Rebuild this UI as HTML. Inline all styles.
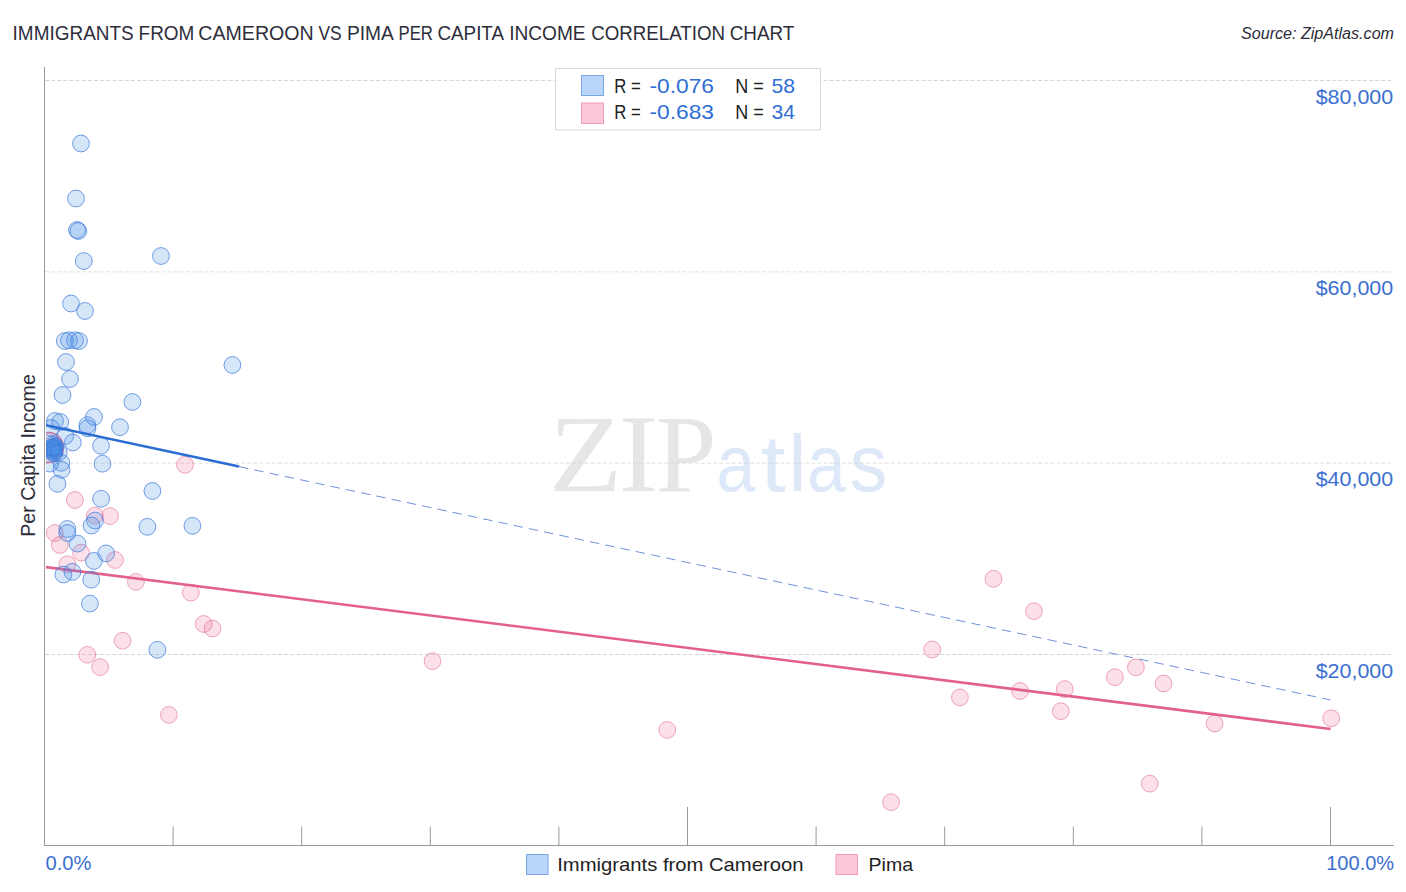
<!DOCTYPE html>
<html><head><meta charset="utf-8"><title>Chart</title>
<style>
html,body{margin:0;padding:0;background:#fff;}
body{width:1406px;height:892px;overflow:hidden;font-family:"Liberation Sans",sans-serif;}
svg{display:block;}
text{font-family:"Liberation Sans",sans-serif;}
.serif{font-family:"Liberation Serif",serif;}
</style></head><body>
<svg width="1406" height="892" viewBox="0 0 1406 892">
<rect width="1406" height="892" fill="#ffffff"/>

<text class="serif" transform="translate(548.9,490.5) scale(1.088,1)" font-size="110" fill="#e6e6e6">Z</text>
<text class="serif" transform="translate(618.7,490.5) scale(1.08,1)" font-size="110" fill="#e6e6e6">I</text>
<text class="serif" transform="translate(655.4,490.5) scale(1.0,1)" font-size="110" fill="#e6e6e6">P</text>
<text transform="translate(716.6,491.2) scale(0.869,1)" font-size="80" fill="#dde8f8">a</text>
<text transform="translate(760.8,491.2) scale(1.119,1)" font-size="80" fill="#dde8f8">t</text>
<text transform="translate(788.5,491.2) scale(1.0,1)" font-size="80" fill="#dde8f8">l</text>
<text transform="translate(807.1,491.2) scale(0.869,1)" font-size="80" fill="#dde8f8">a</text>
<text transform="translate(849.7,491.2) scale(0.939,1)" font-size="80" fill="#dde8f8">s</text>
<line x1="45" y1="80.50" x2="1394" y2="80.50" stroke="#d6d6d6" stroke-opacity="1" stroke-width="1" stroke-dasharray="4 2.13"/>
<line x1="45" y1="271.83" x2="1394" y2="271.83" stroke="#d6d6d6" stroke-opacity="0.75" stroke-width="1" stroke-dasharray="4 2.13"/>
<line x1="45" y1="463.17" x2="1394" y2="463.17" stroke="#d6d6d6" stroke-opacity="0.75" stroke-width="1" stroke-dasharray="4 2.13"/>
<line x1="45" y1="654.50" x2="1394" y2="654.50" stroke="#d6d6d6" stroke-opacity="1" stroke-width="1" stroke-dasharray="4 2.13"/>
<line x1="44.5" y1="67" x2="44.5" y2="845.5" stroke="#9a9a9a" stroke-width="1"/>
<line x1="44" y1="845.5" x2="1394" y2="845.5" stroke="#9a9a9a" stroke-width="1"/>
<line x1="173.1" y1="826.5" x2="173.1" y2="845" stroke="#9a9a9a" stroke-width="1"/>
<line x1="301.7" y1="826.5" x2="301.7" y2="845" stroke="#9a9a9a" stroke-width="1"/>
<line x1="430.3" y1="826.5" x2="430.3" y2="845" stroke="#9a9a9a" stroke-width="1"/>
<line x1="558.9" y1="826.5" x2="558.9" y2="845" stroke="#9a9a9a" stroke-width="1"/>
<line x1="687.5" y1="807" x2="687.5" y2="845" stroke="#9a9a9a" stroke-width="1"/>
<line x1="816.1" y1="826.5" x2="816.1" y2="845" stroke="#9a9a9a" stroke-width="1"/>
<line x1="944.7" y1="826.5" x2="944.7" y2="845" stroke="#9a9a9a" stroke-width="1"/>
<line x1="1073.3" y1="826.5" x2="1073.3" y2="845" stroke="#9a9a9a" stroke-width="1"/>
<line x1="1201.9" y1="826.5" x2="1201.9" y2="845" stroke="#9a9a9a" stroke-width="1"/>
<line x1="1330.5" y1="807" x2="1330.5" y2="845" stroke="#9a9a9a" stroke-width="1"/>
<text x="12.6" y="39.8" font-size="20" fill="#2d2d3a" textLength="121.1" lengthAdjust="spacingAndGlyphs">IMMIGRANTS</text>
<text x="138.6" y="39.8" font-size="20" fill="#2d2d3a" textLength="55.7" lengthAdjust="spacingAndGlyphs">FROM</text>
<text x="198.3" y="39.8" font-size="20" fill="#2d2d3a" textLength="115.4" lengthAdjust="spacingAndGlyphs">CAMEROON</text>
<text x="318.4" y="39.8" font-size="20" fill="#2d2d3a" textLength="23.2" lengthAdjust="spacingAndGlyphs">VS</text>
<text x="346.9" y="39.8" font-size="20" fill="#2d2d3a" textLength="46.9" lengthAdjust="spacingAndGlyphs">PIMA</text>
<text x="398.5" y="39.8" font-size="20" fill="#2d2d3a" textLength="34.4" lengthAdjust="spacingAndGlyphs">PER</text>
<text x="437.5" y="39.8" font-size="20" fill="#2d2d3a" textLength="66.5" lengthAdjust="spacingAndGlyphs">CAPITA</text>
<text x="509.2" y="39.8" font-size="20" fill="#2d2d3a" textLength="76.4" lengthAdjust="spacingAndGlyphs">INCOME</text>
<text x="591.2" y="39.8" font-size="20" fill="#2d2d3a" textLength="133.8" lengthAdjust="spacingAndGlyphs">CORRELATION</text>
<text x="729.7" y="39.8" font-size="20" fill="#2d2d3a" textLength="64.6" lengthAdjust="spacingAndGlyphs">CHART</text>
<text x="1241" y="39" font-size="16" font-style="italic" fill="#2d2d3a" textLength="153" lengthAdjust="spacingAndGlyphs">Source: ZipAtlas.com</text>
<text x="1315.7" y="103.7" font-size="20.5" fill="#3b6fd0" textLength="77.5" lengthAdjust="spacingAndGlyphs">$80,000</text>
<text x="1315.7" y="295.0" font-size="20.5" fill="#3b6fd0" textLength="77.5" lengthAdjust="spacingAndGlyphs">$60,000</text>
<text x="1315.7" y="486.3" font-size="20.5" fill="#3b6fd0" textLength="77.5" lengthAdjust="spacingAndGlyphs">$40,000</text>
<text x="1315.7" y="677.6" font-size="20.5" fill="#3b6fd0" textLength="77.5" lengthAdjust="spacingAndGlyphs">$20,000</text>
<text x="45.5" y="870" font-size="19.5" fill="#3b6fd0" textLength="46" lengthAdjust="spacingAndGlyphs">0.0%</text>
<text x="1326.2" y="870" font-size="19.5" fill="#3b6fd0" textLength="68" lengthAdjust="spacingAndGlyphs">100.0%</text>
<text transform="translate(35,536.8) rotate(-90)" font-size="20" fill="#2d2d3a" textLength="162.6" lengthAdjust="spacingAndGlyphs">Per Capita Income</text>
<defs><clipPath id="pc"><rect x="46" y="60" width="1360" height="785"/></clipPath></defs>
<g clip-path="url(#pc)">
<g fill="rgb(235,100,140)" fill-opacity="0.2" stroke="rgb(225,95,135)" stroke-opacity="0.6" stroke-width="0.9">
<circle cx="48.5" cy="447.6" r="15" stroke-width="1.5" stroke-opacity="0.9"/>
<circle cx="185" cy="464.8" r="8.4"/>
<circle cx="74.9" cy="500" r="8.4"/>
<circle cx="94.8" cy="515.6" r="8.4"/>
<circle cx="110" cy="516.1" r="8.4"/>
<circle cx="54.8" cy="533" r="8.4"/>
<circle cx="59.8" cy="545" r="8.4"/>
<circle cx="81" cy="552.6" r="8.4"/>
<circle cx="115" cy="560" r="8.4"/>
<circle cx="67.3" cy="564.3" r="8.4"/>
<circle cx="135.9" cy="581.9" r="8.4"/>
<circle cx="190.8" cy="592.6" r="8.4"/>
<circle cx="203.7" cy="624" r="8.4"/>
<circle cx="212.5" cy="628.5" r="8.4"/>
<circle cx="122.6" cy="640.7" r="8.4"/>
<circle cx="87.3" cy="654.8" r="8.4"/>
<circle cx="100.1" cy="667.1" r="8.4"/>
<circle cx="168.9" cy="714.9" r="8.4"/>
<circle cx="432.5" cy="661.2" r="8.4"/>
<circle cx="667.3" cy="729.9" r="8.4"/>
<circle cx="891.1" cy="802.2" r="8.4"/>
<circle cx="932.2" cy="649.5" r="8.4"/>
<circle cx="959.9" cy="697.4" r="8.4"/>
<circle cx="993.5" cy="578.8" r="8.4"/>
<circle cx="1020" cy="691" r="8.4"/>
<circle cx="1033.9" cy="611.2" r="8.4"/>
<circle cx="1060.8" cy="711.2" r="8.4"/>
<circle cx="1064.7" cy="689.1" r="8.4"/>
<circle cx="1114.9" cy="677.2" r="8.4"/>
<circle cx="1135.9" cy="667.3" r="8.4"/>
<circle cx="1163.6" cy="683.5" r="8.4"/>
<circle cx="1149.7" cy="783.6" r="8.4"/>
<circle cx="1214.6" cy="723.5" r="8.4"/>
<circle cx="1331.2" cy="718.3" r="8.4"/>
</g>
<line x1="45" y1="567" x2="1330.5" y2="729" stroke="#e2608b" stroke-width="2.5"/>
<g fill="rgb(70,140,228)" fill-opacity="0.22" stroke="rgb(60,120,220)" stroke-opacity="0.75" stroke-width="0.95">
<circle cx="81" cy="143.5" r="8.4"/>
<circle cx="76" cy="198.5" r="8.4"/>
<circle cx="77" cy="230" r="8.4"/>
<circle cx="78.3" cy="231" r="8.4"/>
<circle cx="83.8" cy="261" r="8.4"/>
<circle cx="161" cy="256" r="8.4"/>
<circle cx="71" cy="303.5" r="8.4"/>
<circle cx="85" cy="311" r="8.4"/>
<circle cx="64.8" cy="341" r="8.4"/>
<circle cx="69" cy="340.3" r="8.4"/>
<circle cx="75" cy="340.3" r="8.4"/>
<circle cx="79" cy="341" r="8.4"/>
<circle cx="66" cy="362" r="8.4"/>
<circle cx="70" cy="379" r="8.4"/>
<circle cx="62.5" cy="395" r="8.4"/>
<circle cx="232.4" cy="365" r="8.4"/>
<circle cx="132.4" cy="402" r="8.4"/>
<circle cx="55" cy="421" r="8.4"/>
<circle cx="60.2" cy="422" r="8.4"/>
<circle cx="94" cy="417" r="8.4"/>
<circle cx="87.4" cy="425.2" r="8.4"/>
<circle cx="87.5" cy="428.3" r="8.4"/>
<circle cx="120" cy="427.2" r="8.4"/>
<circle cx="51" cy="428" r="8.4"/>
<circle cx="65.2" cy="436" r="8.4"/>
<circle cx="72.8" cy="442.5" r="8.4"/>
<circle cx="101" cy="445.8" r="8.4"/>
<circle cx="52.5" cy="444" r="8.4"/>
<circle cx="53.5" cy="445.5" r="8.4"/>
<circle cx="54" cy="447" r="8.4"/>
<circle cx="53" cy="448" r="8.4"/>
<circle cx="54.5" cy="448.5" r="8.4"/>
<circle cx="53.5" cy="449.5" r="8.4"/>
<circle cx="52.5" cy="450.5" r="8.4"/>
<circle cx="54" cy="451" r="8.4"/>
<circle cx="53" cy="452.5" r="8.4"/>
<circle cx="55" cy="446.5" r="8.4"/>
<circle cx="52" cy="447.5" r="8.4"/>
<circle cx="54.5" cy="453.5" r="8.4"/>
<circle cx="58.7" cy="452.5" r="8.4"/>
<circle cx="61.3" cy="462.8" r="8.4"/>
<circle cx="50" cy="463.6" r="8.4"/>
<circle cx="61.6" cy="469.8" r="8.4"/>
<circle cx="102.5" cy="463.7" r="8.4"/>
<circle cx="57.4" cy="483.8" r="8.4"/>
<circle cx="152.4" cy="491" r="8.4"/>
<circle cx="101.1" cy="498.8" r="8.4"/>
<circle cx="95" cy="520.5" r="8.4"/>
<circle cx="91.5" cy="525.5" r="8.4"/>
<circle cx="147.4" cy="526.8" r="8.4"/>
<circle cx="192.4" cy="525.8" r="8.4"/>
<circle cx="67.3" cy="529" r="8.4"/>
<circle cx="67.3" cy="533" r="8.4"/>
<circle cx="77.5" cy="543.6" r="8.4"/>
<circle cx="106.1" cy="553.4" r="8.4"/>
<circle cx="93.9" cy="560.9" r="8.4"/>
<circle cx="72.4" cy="571.9" r="8.4"/>
<circle cx="63.4" cy="574.5" r="8.4"/>
<circle cx="91.2" cy="579.7" r="8.4"/>
<circle cx="89.9" cy="603.6" r="8.4"/>
<circle cx="157.4" cy="649.8" r="8.4"/>
</g>
<line x1="45" y1="425" x2="239" y2="466.6" stroke="#2b6dd2" stroke-width="2.6"/>
<line x1="239" y1="466.6" x2="1330.5" y2="700" stroke="#4a76d0" stroke-width="0.8" stroke-dasharray="9.5 6.1"/>
</g>
<rect x="555.5" y="68.5" width="265" height="61.5" fill="#ffffff" fill-opacity="0.9" stroke="#d9d9d9" stroke-width="1"/>
<rect x="581.5" y="75.5" width="22" height="20" fill="#b9d5f8" stroke="#78a6e6" stroke-width="1"/>
<rect x="581.5" y="103" width="22" height="20.5" fill="#fcc9d8" stroke="#f39ab4" stroke-width="1"/>
<text x="614.2" y="93" font-size="20" fill="#222" textLength="26.5" lengthAdjust="spacingAndGlyphs">R =</text>
<text x="649.5" y="93" font-size="21" fill="#2f6ed6" textLength="64.5" lengthAdjust="spacingAndGlyphs">-0.076</text>
<text x="735.2" y="93" font-size="20" fill="#222" textLength="28.5" lengthAdjust="spacingAndGlyphs">N =</text>
<text x="771.5" y="93" font-size="21" fill="#2f6ed6" textLength="23.5" lengthAdjust="spacingAndGlyphs">58</text>
<text x="614.2" y="119" font-size="20" fill="#222" textLength="26.5" lengthAdjust="spacingAndGlyphs">R =</text>
<text x="649.5" y="119" font-size="21" fill="#2f6ed6" textLength="64.5" lengthAdjust="spacingAndGlyphs">-0.683</text>
<text x="735.2" y="119" font-size="20" fill="#222" textLength="28.5" lengthAdjust="spacingAndGlyphs">N =</text>
<text x="771.5" y="119" font-size="21" fill="#2f6ed6" textLength="23.5" lengthAdjust="spacingAndGlyphs">34</text>
<rect x="526.5" y="854.5" width="21.5" height="20" fill="#b9d5f8" stroke="#78a6e6" stroke-width="1"/>
<text x="557.2" y="871" font-size="19" fill="#222" textLength="246.3" lengthAdjust="spacingAndGlyphs">Immigrants from Cameroon</text>
<rect x="836" y="854.5" width="21.5" height="20" fill="#fcc9d8" stroke="#f39ab4" stroke-width="1"/>
<text x="868.6" y="871" font-size="19" fill="#222" textLength="44.5" lengthAdjust="spacingAndGlyphs">Pima</text>
</svg></body></html>
